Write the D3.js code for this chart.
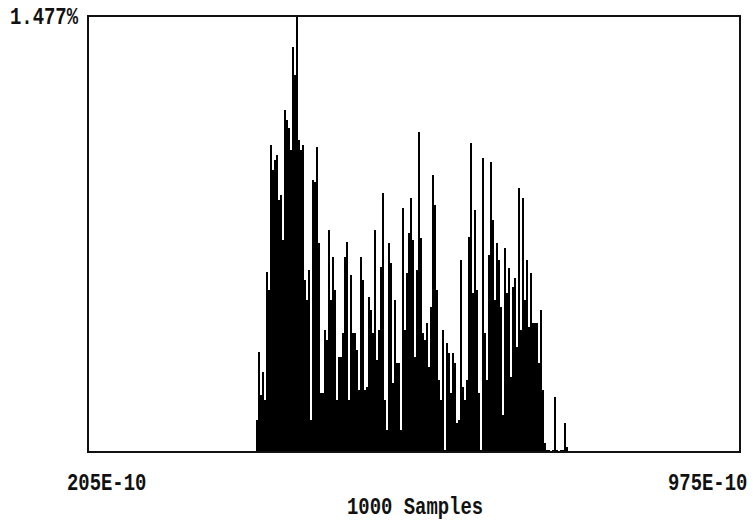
<!DOCTYPE html>
<html>
<head>
<meta charset="utf-8">
<script src="https://cdn.jsdelivr.net/npm/d3@7"></script>
<style>
  html, body { margin: 0; padding: 0; background: #fff; }
  svg { display: block; }
  text { font-family: "Liberation Mono", "DejaVu Sans Mono", monospace; font-weight: bold; fill: #111; }
</style>
</head>
<body>
<svg id="chart" width="753" height="524"></svg>
<script>
// ---- data (time axis in units of 1E-10, values in % of 1000 samples) ----
const xDomain = [205, 975];
const xTickLabels = ["205E-10", "975E-10"];
const yMax = 1.477;
const yMaxLabel = "1.477%";
const xTitle = "1000 Samples";
const binStart = 403.4;   // left edge of first bin (E-10)
const binWidth = 2.362;   // bin width (E-10)
const binValues = [
  0.108, 0.339, 0.193, 0.271, 0.176, 0.610, 0.549, 1.040, 0.955, 0.989,
  1.006, 0.854, 0.871, 0.718, 1.159, 1.125, 1.098, 1.023, 1.372, 1.277,
  1.477, 1.057, 1.023, 1.040, 0.583, 0.515, 0.617, 0.108, 0.921, 0.915,
  1.033, 0.708, 0.200, 0.200, 0.413, 0.379, 0.752, 0.515, 0.661, 0.549,
  0.176, 0.322, 0.322, 0.403, 0.661, 0.711, 0.176, 0.600, 0.403, 0.403,
  0.346, 0.210, 0.661, 0.583, 0.210, 0.220, 0.525, 0.481, 0.403, 0.752,
  0.312, 0.413, 0.627, 0.877, 0.176, 0.075, 0.708, 0.640, 0.234, 0.515,
  0.301, 0.301, 0.075, 0.827, 0.413, 0.606, 0.742, 0.860, 0.718, 0.322,
  0.617, 1.084, 0.725, 0.403, 0.379, 0.437, 0.288, 0.491, 0.938, 0.837,
  0.549, 0.244, 0.176, 0.413, 0.007, 0.369, 0.335, 0.200, 0.335, 0.301,
  0.098, 0.108, 0.650, 0.220, 0.176, 0.244, 0.728, 1.047, 0.539, 0.820,
  0.549, 0.200, 0.007, 0.996, 0.403, 0.244, 0.667, 0.982, 0.786, 0.515,
  0.708, 0.650, 0.491, 0.125, 0.691, 0.539, 0.623, 0.254, 0.559, 0.589,
  0.356, 0.894, 0.413, 0.860, 0.515, 0.650, 0.423, 0.606, 0.437, 0.437,
  0.437, 0.301, 0.481, 0.210, 0.030, 0.007, 0.007, 0.000, 0.007, 0.186,
  0.007, 0.000, 0.007, 0.007, 0.098, 0.017
];

// ---- layout ----
const plot = { left: 88, right: 740, top: 16, bottom: 452 };
const svg = d3.select("#chart");

const x = d3.scaleLinear().domain(xDomain).range([plot.left, plot.right]);
const y = d3.scaleLinear().domain([0, yMax]).range([plot.bottom, plot.top]);

const bins = binValues.map((v, i) => ({
  x0: binStart + i * binWidth,
  x1: binStart + (i + 1) * binWidth,
  v
}));

svg.append("g")
  .attr("shape-rendering", "crispEdges")
  .selectAll("rect")
  .data(bins)
  .join("rect")
  .attr("x", d => x(d.x0))
  .attr("width", d => Math.max(0, x(d.x1) - x(d.x0)))
  .attr("y", d => y(d.v))
  .attr("height", d => plot.bottom - y(d.v))
  .attr("fill", "#000");

// frame
svg.append("rect")
  .attr("x", plot.left)
  .attr("y", plot.top)
  .attr("width", plot.right - plot.left)
  .attr("height", plot.bottom - plot.top)
  .attr("fill", "none")
  .attr("stroke", "#111")
  .attr("stroke-width", 2);

// labels: monospace, stretched vertically like the printer font
function label(str, tx, ty) {
  svg.append("text")
    .attr("transform", `translate(${tx},${ty}) scale(1,1.22)`)
    .attr("font-size", 18.9)
    .text(str);
}
label(yMaxLabel, 10, 24);
label(xTickLabels[0], x(xDomain[0]) - 21, 490);
label(xTickLabels[1], x(xDomain[1]) - 72, 490);
label(xTitle, 347, 514);
</script>
</body>
</html>
